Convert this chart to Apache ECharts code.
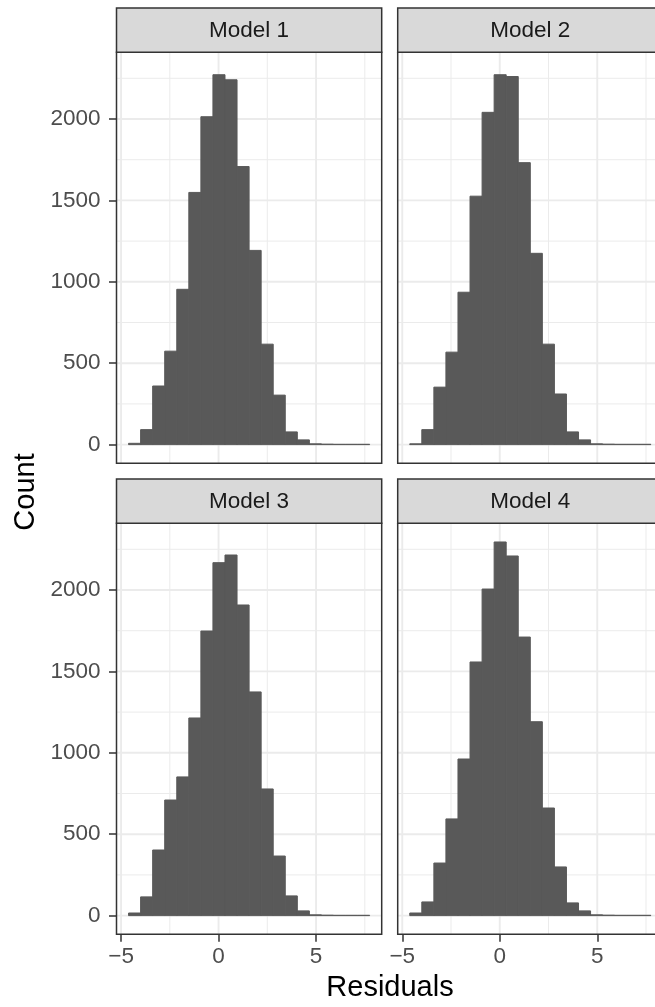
<!DOCTYPE html>
<html>
<head>
<meta charset="utf-8">
<script src="https://cdn.jsdelivr.net/npm/echarts@6/dist/echarts.min.js"></script>
<style>
html,body{margin:0;padding:0;overflow:hidden;background:#ffffff;}
#chart{width:672px;height:1007px;}
</style>
</head>
<body>
<div id="chart"></div>
<script>
// ---------------- data ----------------
const panelTitles = ['Model 1', 'Model 2', 'Model 3', 'Model 4'];
const binStart = -4.616;     // left edge of first histogram bin
const binWidth = 0.6182;     // histogram bin width
const model1Counts = [8, 92, 360, 574, 954, 1549, 2014, 2272, 2241, 1708, 1193, 617, 304, 78, 29, 5, 3, 2, 2, 2];
const model2Counts = [5, 92, 353, 568, 936, 1526, 2041, 2272, 2261, 1732, 1175, 617, 311, 78, 29, 5, 3, 2, 2, 2];
const model3Counts = [16, 115, 403, 710, 852, 1214, 1748, 2168, 2215, 1908, 1374, 778, 366, 121, 29, 5, 3, 2, 2, 2];
const model4Counts = [16, 84, 323, 594, 962, 1558, 2006, 2295, 2209, 1711, 1191, 661, 299, 78, 29, 5, 3, 2, 2, 2];
const xMajorTicks = [-5, 0, 5];
const xMinorTicks = [-2.5, 2.5, 7.5];
const yMajorTicks = [0, 500, 1000, 1500, 2000];
const yMinorTicks = [250, 750, 1250, 1750, 2250];
const xTitle = 'Residuals';
const yTitle = 'Count';

// ---------------- derived ----------------
const allCounts = [model1Counts, model2Counts, model3Counts, model4Counts];
const nBins = model1Counts.length;
const binEnd = binStart + nBins * binWidth;
const xPad = 0.05 * (binEnd - binStart);
const xMin = binStart - xPad, xMax = binEnd + xPad;
const cMax = Math.max.apply(null, allCounts.flat());
const yMin = -0.05 * cMax, yMax = cMax * 1.05;

// ---------------- layout ----------------
const FONT = '"Liberation Sans", Arial, Helvetica, sans-serif';
const LEFT = [116.5, 397.7];
const TOP = [52.3, 523.3];
const PW = 265.2, PH = 411;
const STRIP_H = 44.3;

const grids = [], xAxes = [], yAxes = [], series = [], graphics = [];
const minus = v => String(v).replace('-', '\u2212');
const plain = v => String(v);

for (let i = 0; i < 4; i++) {
  const col = i % 2, row = Math.floor(i / 2);
  grids.push({ left: LEFT[col], top: TOP[row], width: PW, height: PH, containLabel: false });
  xAxes.push({
    type: 'value', gridIndex: i, min: xMin, max: xMax, show: row === 1,
    axisLine: { show: false, onZero: false },
    splitLine: { show: false },
    axisTick: { show: true, customValues: xMajorTicks, length: 7.5, lineStyle: { color: '#333333', width: 1.5 } },
    axisLabel: { customValues: xMajorTicks, margin: 11, fontSize: 22.5, color: '#4D4D4D', fontFamily: FONT, formatter: minus }
  });
  yAxes.push({
    type: 'value', gridIndex: i, min: yMin, max: yMax, show: col === 0,
    axisLine: { show: false, onZero: false },
    splitLine: { show: false },
    axisTick: { show: true, customValues: yMajorTicks, length: 7.5, lineStyle: { color: '#333333', width: 1.5 } },
    axisLabel: { customValues: yMajorTicks, margin: 16, fontSize: 22.5, color: '#4D4D4D', fontFamily: FONT, formatter: plain }
  });

  // vertical grid lines
  const vData = xMajorTicks.map(v => [v, 0, 1]).concat(xMinorTicks.map(v => [v, 0, 0]));
  series.push({
    type: 'custom', xAxisIndex: i, yAxisIndex: i, z: 1, silent: true, animation: false,
    data: vData,
    renderItem: function (params, api) {
      const cs = params.coordSys;
      const x = api.coord([api.value(0), 0])[0];
      return { type: 'line', shape: { x1: x, y1: cs.y, x2: x, y2: cs.y + cs.height },
               style: { stroke: '#EBEBEB', lineWidth: api.value(2) ? 1.9 : 1.0 } };
    }
  });
  // horizontal grid lines
  const hData = yMajorTicks.map(v => [0, v, 1]).concat(yMinorTicks.map(v => [0, v, 0]));
  series.push({
    type: 'custom', xAxisIndex: i, yAxisIndex: i, z: 1, silent: true, animation: false,
    data: hData,
    renderItem: function (params, api) {
      const cs = params.coordSys;
      const y = api.coord([0, api.value(1)])[1];
      return { type: 'line', shape: { x1: cs.x, y1: y, x2: cs.x + cs.width, y2: y },
               style: { stroke: '#EBEBEB', lineWidth: api.value(2) ? 1.9 : 1.0 } };
    }
  });
  // histogram bars
  const barData = allCounts[i].map((c, k) => [binStart + k * binWidth, binStart + (k + 1) * binWidth, c]);
  series.push({
    type: 'custom', name: panelTitles[i], xAxisIndex: i, yAxisIndex: i, z: 2, silent: true, animation: false,
    encode: { x: [0, 1], y: 2 },
    data: barData,
    renderItem: function (params, api) {
      const p0 = api.coord([api.value(0), api.value(2)]);
      const p1 = api.coord([api.value(1), 0]);
      return { type: 'rect', shape: { x: p0[0], y: p0[1], width: p1[0] - p0[0], height: p1[1] - p0[1] },
               style: { fill: '#595959', stroke: '#595959', lineWidth: 1.0 } };
    }
  });

  // panel border
  graphics.push({ type: 'rect', z: 100, silent: true,
    shape: { x: LEFT[col], y: TOP[row], width: PW, height: PH },
    style: { fill: 'none', stroke: '#333333', lineWidth: 1.5 } });
  // strip
  graphics.push({ type: 'rect', z: 100, silent: true,
    shape: { x: LEFT[col], y: TOP[row] - STRIP_H, width: PW, height: STRIP_H },
    style: { fill: '#D9D9D9', stroke: '#333333', lineWidth: 1.5 } });
  graphics.push({ type: 'text', z: 101, silent: true,
    x: LEFT[col] + PW / 2, y: TOP[row] - STRIP_H / 2 + 0.5,
    style: { text: panelTitles[i], fill: '#1A1A1A', font: '22.5px ' + FONT, align: 'center', verticalAlign: 'middle' } });
}

graphics.push({ type: 'text', z: 101, silent: true, x: 26, y: 492, rotation: Math.PI / 2,
  style: { text: yTitle, fill: '#000000', font: '29px ' + FONT, align: 'center', verticalAlign: 'middle' } });
graphics.push({ type: 'text', z: 101, silent: true, x: 390, y: 988,
  style: { text: xTitle, fill: '#000000', font: '29px ' + FONT, align: 'center', verticalAlign: 'middle' } });

const chart = echarts.init(document.getElementById('chart'), null, { renderer: 'canvas' });
chart.setOption({
  backgroundColor: '#ffffff',
  animation: false,
  textStyle: { fontFamily: FONT },
  grid: grids,
  xAxis: xAxes,
  yAxis: yAxes,
  series: series,
  graphic: graphics
});
</script>
</body>
</html>
